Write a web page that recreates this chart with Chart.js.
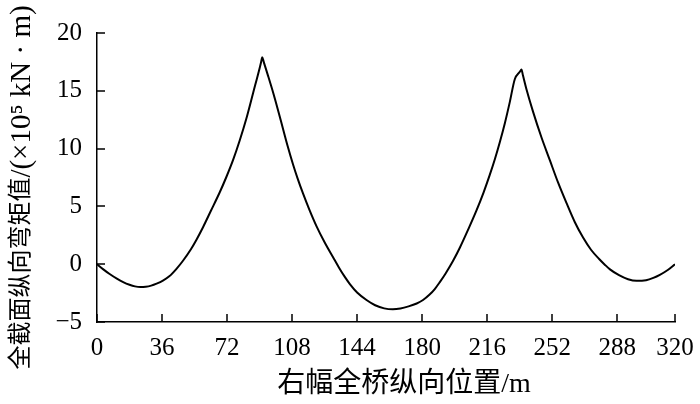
<!DOCTYPE html>
<html>
<head>
<meta charset="utf-8">
<script src="https://cdn.jsdelivr.net/npm/chart.js@4.4.0/dist/chart.umd.min.js"></script>
<style>
  html, body { margin: 0; padding: 0; background: #fff; }
  #wrap { width: 700px; height: 404px; }
</style>
</head>
<body>
<div id="wrap"><canvas id="grafMomento"></canvas></div>
<script>
// posiciones a lo largo del puente (m) y momento (x10^5 kN·m)
const posiciones = [
  0, 3.5, 7, 11, 14.5, 18, 21, 24, 27, 30, 33, 36.5, 40, 44, 47.6, 52, 55, 58.7,
  63, 67.9, 71.5, 75.3, 79, 82.7, 86.5, 90.1, 90.8, 91.5, 92.3, 94.5, 97.5, 100,
  103, 105.5, 108.5, 111, 114.1, 117.5, 121.5, 126, 130.7, 134, 137.2, 140, 144,
  149.2, 154, 159, 163.8, 168, 172.5, 177, 180.5, 184, 187, 189.8, 193, 197,
  200.8, 205.5, 210.1, 214, 217.4, 220.3, 223, 225.8, 228.5, 231.3, 234.2, 235,
  235.8, 238, 241.4, 246, 250.7, 255.3, 259.9, 264.5, 269.1, 273.5, 278, 281,
  284, 289, 294, 298.7, 304, 308, 311.6, 316, 320
];
const momentos = [
  0, -0.45, -0.85, -1.25, -1.55, -1.78, -1.92, -1.98, -1.95, -1.85, -1.68, -1.42,
  -1.05, -0.4, 0.3, 1.3, 2.1, 3.2, 4.6, 6.2, 7.5, 9.0, 10.7, 12.6, 14.85, 17.0,
  17.45, 17.9, 17.5, 16.4, 14.85, 13.45, 11.7, 10.25, 8.65, 7.45, 6.1, 4.75, 3.3,
  1.9, 0.6, -0.3, -1.1, -1.72, -2.45, -3.1, -3.55, -3.82, -3.9, -3.83, -3.65,
  -3.4, -3.1, -2.65, -2.15, -1.55, -0.8, 0.25, 1.4, 3.0, 4.65, 6.2, 7.7, 9.1,
  10.55, 12.2, 14.0, 16.0, 16.67, 16.85, 16.35, 15.0, 13.2, 11.0, 9.0, 7.05, 5.3,
  3.65, 2.3, 1.25, 0.45, -0.02, -0.45, -0.95, -1.3, -1.44, -1.38, -1.18, -0.92,
  -0.5, 0
];
const ticksX = [0, 36, 72, 108, 144, 180, 216, 252, 288, 320];
const ticksY = [-5, 0, 5, 10, 15, 20];

const tituloX = '右幅全桥纵向位置/m';
const tituloY = ['全截面纵向弯矩值', '/(×10⁵ kN · m)'];

const fuente = '"Liberation Serif", "Noto Sans CJK SC", serif';

// marcas de eje hacia dentro + títulos de los ejes
const ejesPlugin = {
  id: 'ejes',
  afterDraw (chart) {
    const { ctx, chartArea: a, scales } = chart;
    ctx.save();
    ctx.strokeStyle = '#000';
    ctx.lineWidth = 1.5;
    ctx.beginPath();
    ticksX.forEach(v => {
      const px = Math.round(scales.x.getPixelForValue(v));
      ctx.moveTo(px, a.bottom); ctx.lineTo(px, a.bottom - 8);
    });
    ticksY.forEach(v => {
      const py = Math.round(scales.y.getPixelForValue(v));
      ctx.moveTo(a.left, py); ctx.lineTo(a.left + 8, py);
    });
    ctx.stroke();

    ctx.fillStyle = '#000';
    ctx.textBaseline = 'middle';
    ctx.textAlign = 'center';
    ctx.font = '28px ' + fuente;
    ctx.fillText(tituloX, (a.left + a.right) / 2 + 18, 385);

    // título vertical: parte china más pequeña, unidades más grandes
    ctx.translate(22, (a.top + a.bottom) / 2 + 10);
    ctx.rotate(-Math.PI / 2);
    const f1 = '24px ' + fuente, f2 = '29px ' + fuente;
    ctx.font = f1; const w1 = ctx.measureText(tituloY[0]).width;
    ctx.font = f2; const w2 = ctx.measureText(tituloY[1]).width;
    ctx.textAlign = 'left';
    let x0 = -(w1 + w2) / 2;
    ctx.font = f1; ctx.fillText(tituloY[0], x0, 0);
    ctx.font = f2; ctx.fillText(tituloY[1], x0 + w1, 0);
    ctx.restore();
  }
};

new Chart(document.getElementById('grafMomento'), {
  type: 'line',
  data: {
    datasets: [{
      data: posiciones.map((x, i) => ({ x, y: momentos[i] })),
      borderColor: '#000',
      borderWidth: 2,
      pointRadius: 0,
      cubicInterpolationMode: 'monotone',
      fill: false
    }]
  },
  options: {
    responsive: true,
    maintainAspectRatio: false,
    animation: false,
    layout: { padding: { top: 33, right: 25, left: 0, bottom: 0 } },
    plugins: { legend: { display: false }, tooltip: { enabled: false } },
    scales: {
      x: {
        type: 'linear',
        min: 0, max: 320,
        afterBuildTicks: s => { s.ticks = ticksX.map(v => ({ value: v })); },
        afterFit: s => { s.height = 82; s.paddingLeft = 0; s.paddingRight = 0; },
        grid: { drawOnChartArea: false, drawTicks: false },
        border: { color: '#000', width: 1.5 },
        ticks: { color: '#000', font: { family: fuente, size: 25 }, padding: 11, maxRotation: 0, autoSkip: false }
      },
      y: {
        min: -5, max: 20,
        afterBuildTicks: s => { s.ticks = ticksY.map(v => ({ value: v })); },
        afterFit: s => { s.width = 97; s.paddingTop = 0; s.paddingBottom = 0; },
        grid: { drawOnChartArea: false, drawTicks: false },
        border: { color: '#000', width: 1.5 },
        ticks: {
          color: '#000', font: { family: fuente, size: 25 }, padding: 15,
          callback: v => String(v).replace('-', '−')
        }
      }
    }
  },
  plugins: [ejesPlugin]
});
</script>
</body>
</html>
